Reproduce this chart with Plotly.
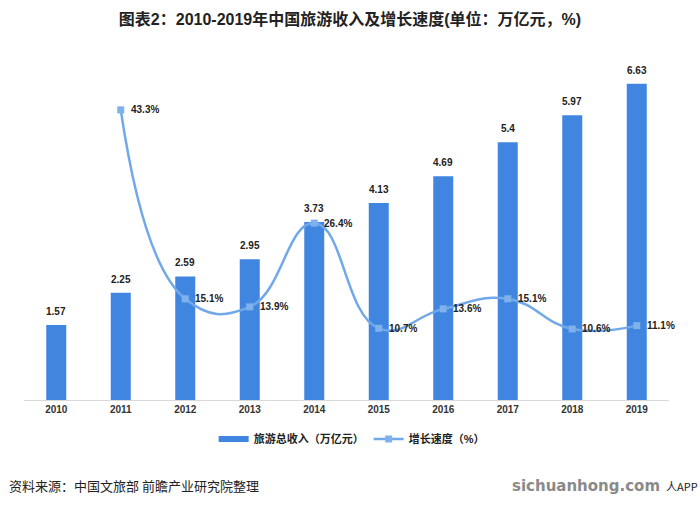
import plotly.graph_objects as go

years = ["2010", "2011", "2012", "2013", "2014", "2015", "2016", "2017", "2018", "2019"]
revenue = [1.57, 2.25, 2.59, 2.95, 3.73, 4.13, 4.69, 5.4, 5.97, 6.63]
growth_years = ["2011", "2012", "2013", "2014", "2015", "2016", "2017", "2018", "2019"]
growth = [43.3, 15.1, 13.9, 26.4, 10.7, 13.6, 15.1, 10.6, 11.1]
revenue_labels = ["1.57", "2.25", "2.59", "2.95", "3.73", "4.13", "4.69", "5.4", "5.97", "6.63"]
growth_labels = [f"{v}%" for v in growth]

FONT = "Liberation Sans, Arial, Noto Sans CJK SC, sans-serif"
BAR_COLOR = "#4086e0"
LINE_COLOR = "#70a8ea"

fig = go.Figure()
fig.add_trace(go.Bar(
    x=years, y=revenue, name="旅游总收入（万亿元）", showlegend=False,
    marker=dict(color=BAR_COLOR, line=dict(width=0)),
))
# legend proxy for the bar series (wide flat rectangle like the reference)
fig.add_trace(go.Scatter(
    x=[years[0]], y=[None], mode="lines", name="<b>旅游总收入（万亿元）</b>",
    line=dict(color=BAR_COLOR, width=6),
))
fig.add_trace(go.Scatter(
    x=growth_years, y=growth, name="<b>增长速度（%）</b>", yaxis="y2",
    mode="lines+markers",
    line=dict(color=LINE_COLOR, width=2.5, shape="spline", smoothing=1.3),
    marker=dict(symbol="square", size=7, color="#7fb1ec"),
    cliponaxis=False,
))

annotations = []
for yr, v, t in zip(years, revenue, revenue_labels):
    annotations.append(dict(x=years.index(yr), y=v, xref="x", yref="y", text=f"<b>{t}</b>",
                            showarrow=False, xanchor="center", yanchor="bottom", yshift=6,
                            font=dict(size=10, color="#222", family=FONT)))
for yr, v, t in zip(growth_years, growth, growth_labels):
    annotations.append(dict(x=years.index(yr), y=v, xref="x", yref="y2", text=f"<b>{t}</b>",
                            showarrow=False, xanchor="left", yanchor="middle", xshift=8,
                            font=dict(size=10, color="#222", family=FONT)))

annotations += [
    dict(text="资料来源：中国文旅部 前瞻产业研究院整理", xref="paper", yref="paper",
         x=-0.026, y=-0.257, xanchor="left", yanchor="middle", showarrow=False,
         font=dict(size=13, color="#222", family="Noto Sans CJK SC, sans-serif")),
    dict(text="<b>sichuanhong.com</b>", xref="paper", yref="paper",
         x=(662 - 24) / 645, y=-0.257, xanchor="right", yanchor="middle", showarrow=False,
         font=dict(size=15, color="#8a8a8a", family="DejaVu Sans, sans-serif")),
    dict(text="人APP", xref="paper", yref="paper",
         x=(700 - 24) / 645, y=-0.257, xanchor="right", yanchor="middle", showarrow=False,
         font=dict(size=11, color="#222", family="Noto Sans CJK SC, sans-serif")),
]

fig.update_layout(
    width=700, height=506,
    margin=dict(l=24, r=31, t=66, b=106),
    paper_bgcolor="white", plot_bgcolor="white",
    font=dict(family=FONT, color="#222"),
    title=dict(text="<b>图表2：2010-2019年中国旅游收入及增长速度(单位：万亿元，%)</b>",
               x=0.5, xanchor="center", y=0.962, yanchor="middle",
               font=dict(size=16, color="#222", family=FONT)),
    bargap=0.69,
    showlegend=True,
    legend=dict(orientation="h", x=0.508, xanchor="center", y=-0.117, yanchor="middle",
                font=dict(size=11, color="#222", family=FONT), itemwidth=30,
                tracegroupgap=0),
    xaxis=dict(type="category", categoryorder="array", categoryarray=years,
               range=[-0.5, len(years) - 0.5], autorange=False,
               showline=True, linecolor="#d9d9d9", linewidth=1, ticks="",
               tickfont=dict(size=10, color="#333", family=FONT),
               tickprefix="<b>", ticksuffix="</b>", showgrid=False),
    yaxis=dict(range=[0, 7], visible=False, showgrid=False),
    yaxis2=dict(range=[0, 49.85], overlaying="y", side="right", visible=False, showgrid=False),
    annotations=annotations,
)

fig.write_html("out.html", config={"displayModeBar": False},
               post_script="document.body.style.margin='0';document.body.style.overflow='hidden';")
